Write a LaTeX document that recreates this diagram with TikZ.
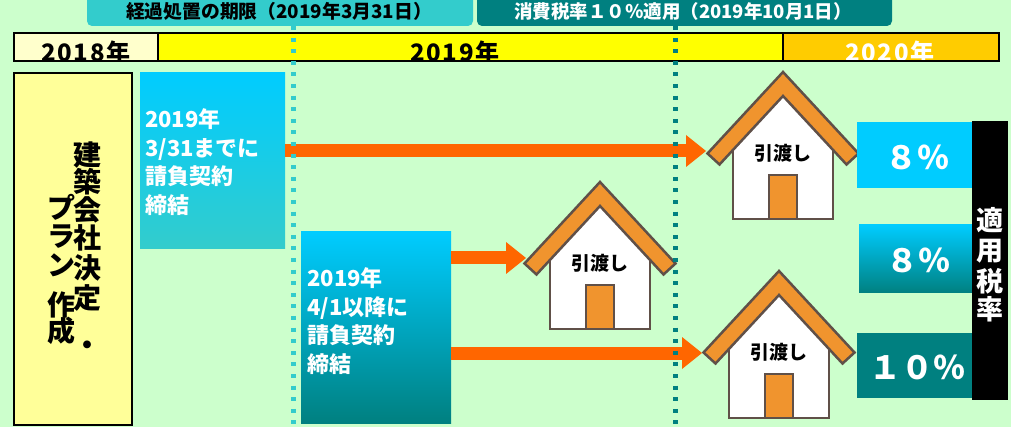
\documentclass[tikz,border=0pt]{standalone}
\usepackage{fontspec}
\setmainfont{Noto Sans CJK JP}
\usetikzlibrary{arrows.meta}
\definecolor{bgC}{RGB}{204,255,204}
\definecolor{cyanA}{RGB}{0,204,255}
\definecolor{tealL}{RGB}{51,204,204}
\definecolor{tealD}{RGB}{0,128,128}
\definecolor{yelC}{RGB}{255,255,0}
\definecolor{yelL}{RGB}{255,255,204}
\definecolor{yelM}{RGB}{255,255,153}
\definecolor{goldC}{RGB}{255,204,0}
\definecolor{arrowC}{RGB}{255,102,0}
\definecolor{roofC}{RGB}{240,148,46}
\definecolor{brownC}{RGB}{96,80,72}
\newcommand{\jpfs}[1]{\fontsize{#1}{#1}\selectfont\bfseries}
\begin{document}
\begin{tikzpicture}[x=1pt,y=-1pt,
  cell/.style={draw=black, line width=1.5pt, inner sep=0pt},
  box/.style={inner sep=0pt, draw=none},
  boxtxt/.style={text=white, font=\fontsize{22}{28.5}\selectfont\bfseries, align=left, inner sep=0pt, anchor=west},
  ratetxt/.style={text=white, font=\jpfs{32}, inner sep=0pt},
  vch/.style={font=\jpfs{28}, inner sep=0pt},
  yeartxt/.style={font=\jpfs{24}\addfontfeature{LetterSpace=6}, inner sep=0pt, anchor=base},
  arr/.style={draw=arrowC, line width=13pt, -{Triangle[length=20pt,width=32pt,line width=0pt]}},
  dotline/.style={line width=5pt, dash pattern=on 4pt off 7.6pt},
  house/.pic={
    \fill[white] (-50,147) -- (-50,78) -- (0,24) -- (50,78) -- (50,147) -- cycle;
    \draw[brownC, line width=2.5pt] (-50,78) -- (-50,147) -- (50,147) -- (50,78);
    \draw[brownC, line width=2.5pt, fill=roofC] (-14,147) rectangle (14,103);
    \draw[brownC, line width=2.5pt, fill=roofC, line join=miter]
      (0,0) -- (75.5,81.5) -- (63.5,92.5) -- (0,24) -- (-63.5,92.5) -- (-75.5,81.5) -- cycle;
    \node[font=\jpfs{19}, inner sep=0pt] (-lbl) at (0,81.5) {引渡し};
  }]
\useasboundingbox (0,0) rectangle (1011,427);
\fill[bgC] (0,0) rectangle (1011,427);

% top banners
\fill[tealL, rounded corners=5pt] (87,-10) rectangle (473,26);
\node[font=\jpfs{18.8}, text=black, inner sep=0pt] (ban1) at (279,11.5) {経過処置の期限（2019年3月31日）};
\fill[tealD, rounded corners=5pt] (477,-10) rectangle (892,26);
\node[font=\jpfs{18.5}, text=white, inner sep=0pt] (ban2) at (683,11.5) {消費税率１０％適用（2019年10月1日）};

% year bar
\node[cell, fill=yelL, minimum width=144pt, minimum height=28pt] (y18) at (86,47) {};
\node[cell, fill=yelC, minimum width=625pt, minimum height=28pt] (y19) at (470.5,47) {};
\node[cell, fill=goldC, minimum width=216pt, minimum height=28pt] (y20) at (891,47) {};
\begin{scope}
  \clip (14,33) rectangle (999,60.2);
  \node[yeartxt] (t18) at (86,61.5) {2018年};
  \node[yeartxt] (t19) at (455,61.5) {2019年};
  \node[yeartxt, text=white] (t20) at (890,61.5) {2020年};
\end{scope}
\draw[line width=1.5pt] (14,33) rectangle (999,61);

% left box
\node[cell, fill=yelM, minimum width=118pt, minimum height=352pt] (plan) at (73,249) {};
\foreach \c/\yy [count=\i] in {建/155,築/182,会/210,社/238,決/268,定/298,・/348}
  \node[vch] (ra\i) at (87.5,\yy) {\c};
\foreach \c/\yy [count=\i] in {プ/207.5,ラ/236.5,ン/265,作/304.5,成/330.5}
  \node[vch] (la\i) at (61,\yy) {\c};

% contract boxes
\node[box, top color=cyanA, bottom color=tealL, minimum width=145pt, minimum height=176pt] (b1) at (212.5,161) {};
\node[boxtxt] (b1t) at (145,162) {2019年\\3/31までに\\請負契約\\締結};
\node[box, top color=cyanA, bottom color=tealD, minimum width=150pt, minimum height=191pt] (b2) at (376,327.5) {};
\node[boxtxt] (b2t) at (307,321) {2019年\\4/1以降に\\請負契約\\締結};

% houses
\pic (h1) at (783,72) {house};
\pic (h2) at (600,182) {house};
\pic (h3) at (779,271) {house};

% arrows
\coordinate (t1) at (706,151);
\coordinate (t2) at (526,258);
\coordinate (t3) at (702,353);
\draw[arr] (b1.east |- t1) -- (t1);
\draw[arr] (b2.east |- t2) -- (t2);
\draw[arr] (b2.east |- t3) -- (t3);

% rate boxes
\node[box, fill=cyanA, minimum width=115pt, minimum height=66pt] (r1) at (914.5,155) {};
\node[ratetxt] (r1t) at (917,157) {８％};
\node[box, top color=cyanA, bottom color=tealD, minimum width=113pt, minimum height=68pt] (r2) at (915.5,259) {};
\node[ratetxt] (r2t) at (918,260) {８％};
\node[box, fill=tealD, minimum width=115pt, minimum height=65pt] (r3) at (914.5,365.5) {};
\node[ratetxt] (r3t) at (917,367) {１０％};
\node[box, fill=black, minimum width=36pt, minimum height=279pt] (rate) at (990,260.5) {};
\foreach \c/\yy [count=\i] in {適/220,用/251,税/281,率/309}
  \node[vch, text=white, font=\jpfs{27}] (rc\i) at (990,\yy) {\c};

% dotted deadlines
\coordinate (d1a) at (293,26);
\coordinate (d1b) at (293,427);
\coordinate (d2a) at (675,26);
\coordinate (d2b) at (675,427);
\draw[dotline, tealL] (d1a) -- (d1b);
\draw[dotline, tealD] (d2a) -- (d2b);
\end{tikzpicture}
\end{document}
